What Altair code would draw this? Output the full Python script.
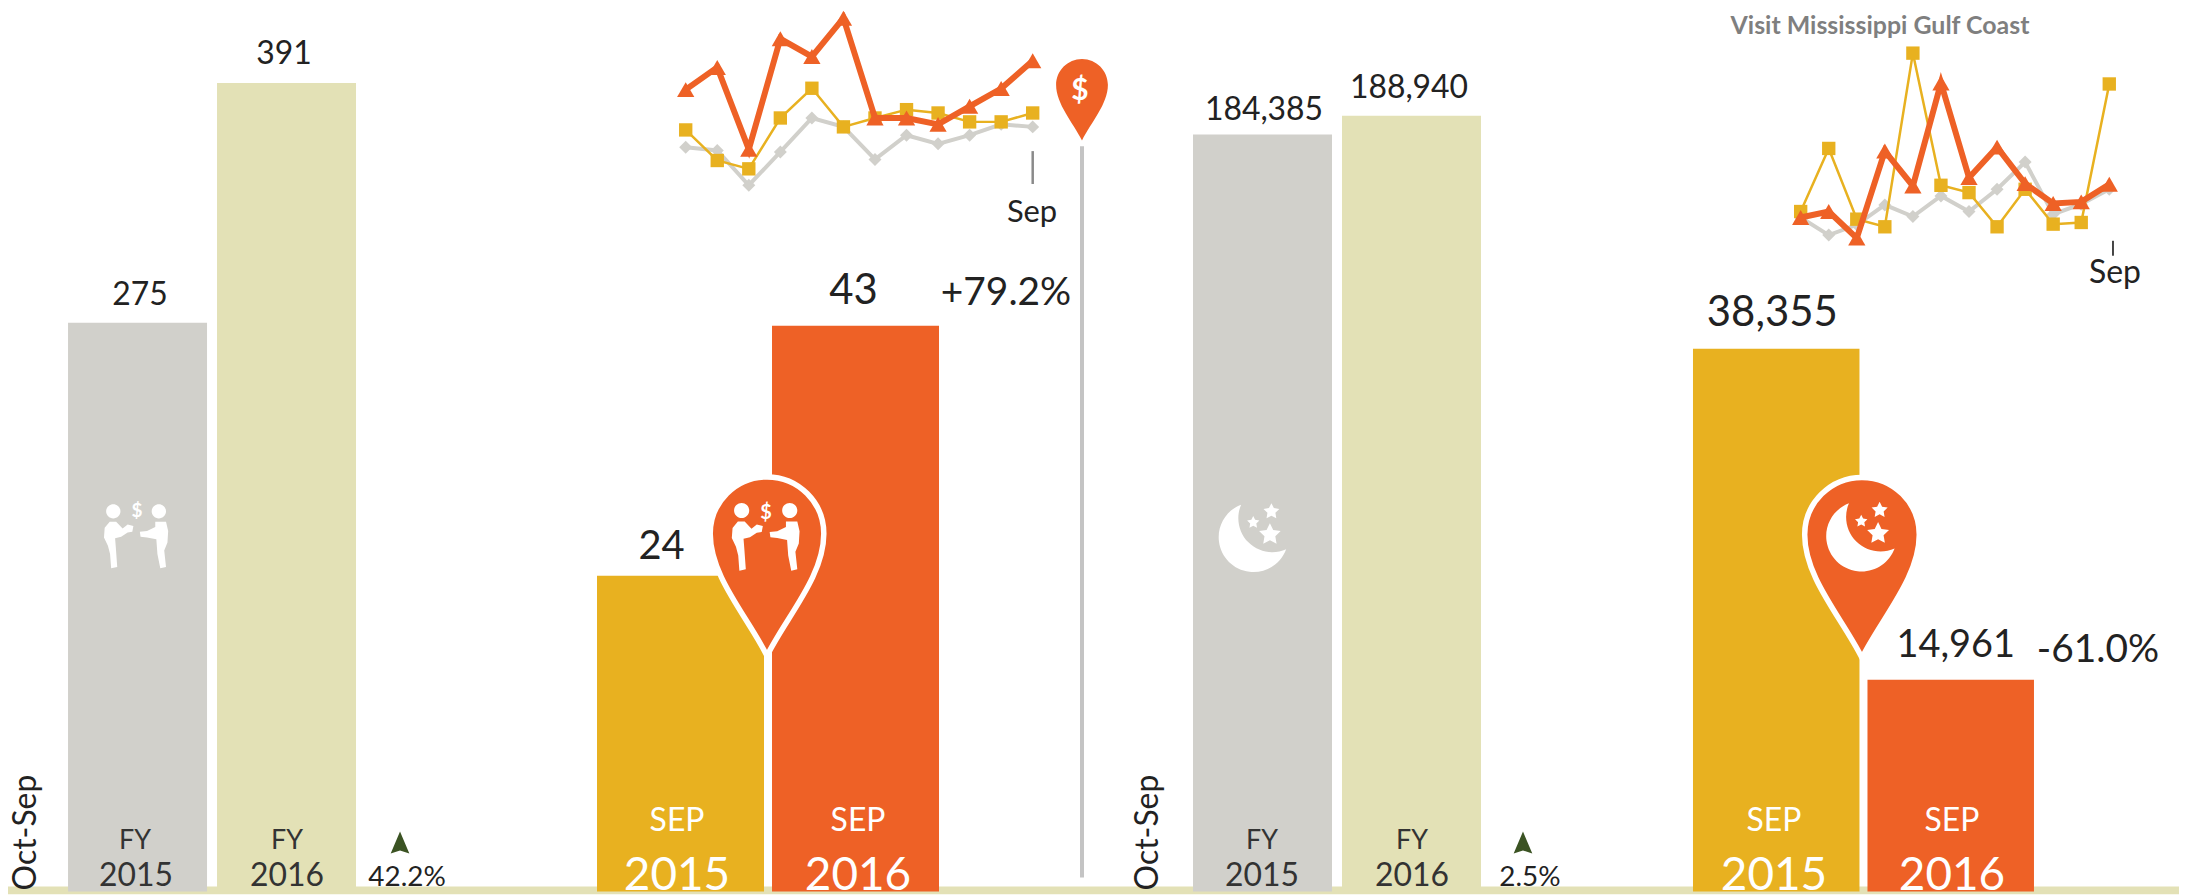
import math
import altair as alt
import pandas as pd

# ---------- data ----------
fy_visits_years = ["FY 2015", "FY 2016"]
fy_visits = [275, 391]
sep_visits_years = ["SEP 2015", "SEP 2016"]
sep_visits = [24, 43]
fy_nights_years = ["FY 2015", "FY 2016"]
fy_nights = [184385, 188940]
sep_nights_years = ["SEP 2015", "SEP 2016"]
sep_nights = [38355, 14961]
months = ["Oct", "Nov", "Dec", "Jan", "Feb", "Mar", "Apr", "May", "Jun", "Jul", "Aug", "Sep"]

# sparkline 1: relative index, estimated
s1_orange = [37.5, 45.5, 16, 55.8, 49.4, 63.2, 27.3, 27.3, 25, 31.5, 37.9, 47.9]
s1_gold = [23, 12, 9, 27.3, 38, 24.1, 27.3, 30.3, 29.1, 25.9, 25.9, 29.1]
s1_grey = [16.8, 15.6, 3.1, 15.1, 27.3, 24.1, 12.4, 21.1, 18, 21.1, 25, 24.1]
# sparkline 2: estimated room nights
s2_orange = [7218, 8612, 2417, 22704, 14574, 38577, 16510, 23633, 15116, 10470, 10857, 14961]
s2_gold = [8612, 23323, 6831, 5050, 45546, 14729, 13025, 5050, 13800, 5669, 6057, 38355]
s2_grey = [7218, 3114, 5515, 10160, 7450, 12251, 8612, 13800, 20149, 7992, 10315, 13800]

# ---------- style ----------
ORANGE, GOLD, GREY, KHAKI = "#EE6126", "#E8B120", "#D1D0CB", "#E3E1B6"
INK, FONT = "#222222", "Lato"
W, H = 2179, 888

def X(p):
    return p * 2195 / 2187 - 8

def Y(p):
    return p - 8

one = pd.DataFrame({"a": [0]})

def text(s, x, y, size, color=INK, align="center", angle=0, weight="normal", baseline="alphabetic"):
    return alt.Chart(one).mark_text(
        text=s, font=FONT, fontSize=size, color=color, align=align, angle=angle,
        fontWeight=weight, baseline=baseline,
    ).encode(x=alt.value(X(x)), y=alt.value(Y(y)))

def glyph(path, x, y, half, fill="white", stroke=None, sw=0):
    kw = dict(shape=path, size=(2 * half) ** 2, filled=True, fill=fill, opacity=1, fillOpacity=1)
    if stroke:
        kw.update(stroke=stroke, strokeWidth=sw)
    else:
        kw.update(strokeWidth=0)
    return alt.Chart(one).mark_point(**kw).encode(x=alt.value(X(x)), y=alt.value(Y(y)))

def bars(cats, vals, colors, xr, gap, domain, top, labels):
    df = pd.DataFrame({"c": cats, "v": vals, "color": colors, "lab": [f"{v:,}" for v in vals]})
    xs = alt.X("c:N", axis=None, sort=None, scale=alt.Scale(
        domain=cats, range=[X(xr[0]), X(xr[1])],
        paddingInner=gap / ((xr[1] - xr[0] + gap) / 2), paddingOuter=0))
    ys = alt.Y("v:Q", axis=None, scale=alt.Scale(domain=[0, domain], range=[Y(893), Y(top)]))
    out = [alt.Chart(df).mark_bar(cornerRadius=0, strokeWidth=0).encode(
        x=xs, y=ys, fill=alt.Fill("color:N", scale=None))]
    for i, (dx, dy, size) in enumerate(labels):
        out.append(alt.Chart(df.iloc[[i]]).mark_text(
            font=FONT, fontSize=size, color=INK, baseline="alphabetic", dx=dx, dy=dy,
        ).encode(x=xs, y=ys, text="lab:N"))
    return out

def spark(orange, gold, grey, xr, domain, yr, owidth):
    df = pd.DataFrame({"m": months, "orange": orange, "gold": gold, "grey": grey})
    xs = alt.X("m:N", axis=None, sort=None, scale=alt.Scale(
        type="point", domain=months, range=[X(xr[0]), X(xr[1])], padding=0))
    ys = lambda f: alt.Y(f + ":Q", axis=None, scale=alt.Scale(domain=domain, range=[Y(yr[0]), Y(yr[1])]))
    out = []
    for f, col, lw, sh, sz in [("grey", GREY, 4, "diamond", 170),
                               ("gold", GOLD, 2.5, "square", 180),
                               ("orange", ORANGE, owidth, "triangle-up", 300)]:
        out.append(alt.Chart(df).mark_line(color=col, strokeWidth=lw).encode(x=xs, y=ys(f)))
        out.append(alt.Chart(df).mark_point(shape=sh, size=sz, filled=True, color=col, opacity=1, strokeWidth=0)
                   .encode(x=xs, y=ys(f)))
    return out

# ---------- icon outlines, unit box -1..1 ----------
def circ(x, y, r):
    return f"M{x - r},{y}a{r},{r} 0 1,0 {2 * r},0a{r},{r} 0 1,0 {-2 * r},0Z"

def poly(pts):
    return "M" + "L".join(f"{a},{b}" for a, b in pts) + "Z"

def star(x, y, r):
    pts = []
    for k in range(10):
        rr = r if k % 2 == 0 else r * 0.5
        t = -math.pi / 2 + k * math.pi / 5
        pts.append((round(x + rr * math.cos(t), 3), round(y + rr * math.sin(t), 3)))
    return poly(pts)

PIN = "M0,2.15C-.35,1.45 -1,.75 -1,0A1,1 0 1,1 1,0C1,.75 .35,1.45 0,2.15Z"
PEOPLE = (circ(-.67, -.64, .2) + circ(.6, -.64, .2)
          + poly([(-.77, -.35), (-.59, -.35), (-.41, -.16), (-.27, -.27), (-.11, -.23), (-.14, -.07), (-.27, -.05),
                  (-.45, .07), (-.62, .11), (-.6, .36), (-.56, .91), (-.73, .95), (-.76, .55), (-.82, .32),
                  (-.93, .09), (-.91, -.18)])
          + poly([(.5, -.35), (.8, -.35), (.86, -.09), (.84, .23), (.75, .45), (.8, .91), (.64, .95), (.56, .55),
                  (.53, .14), (.27, .09), (.09, .07), (.07, -.07), (.27, -.09), (.5, -.2)]))
MOON = ("M-.34,-.82A.92,.92 0 1,0 .85,.36A.9,.9 0 0,1 -.34,-.82Z"
        + star(.42, -.03, .3) + star(.46, -.64, .22) + star(-.02, -.35, .17))
ARROW = "M0,-1L.85,1L0,.72L-.85,1Z"

layers = []
# ground band
layers.append(alt.Chart(one).mark_rect(color=KHAKI, strokeWidth=0).encode(
    x=alt.value(0), x2=alt.value(W), y=alt.value(Y(888)), y2=alt.value(H)))

# bars
layers += bars(fy_visits_years, fy_visits, [GREY, KHAKI], (68, 356), 10, 400, 63,
               [(0, -18, 32), (0, -19, 32)])
layers += bars(sep_visits_years, sep_visits, [GOLD, ORANGE], (597, 939), 8, 50, 233,
               [(-21, -17, 40), (0, -22, 42)])
layers += bars(fy_nights_years, fy_nights, [GREY, KHAKI], (1193, 1481), 10, 200000, 69,
               [(-1, -15, 32), (0, -18, 32)])
layers += bars(sep_nights_years, sep_nights, [GOLD, ORANGE], (1693, 2034), 8, 40000, 325,
               [(-6, -23, 42), (7, -23, 38)])

# sparklines
layers += spark(s1_orange, s1_gold, s1_grey, (685.7, 1032.7), [0, 65], (192.9, 11.6), 6)
layers += spark(s2_orange, s2_gold, s2_grey, (1800.7, 2109.3), [0, 50000], (247.7, 32.5), 6)

# rules and ticks
for x, y0, y1, col, sw in [(1082, 145, 879, "#C4C4C4", 4), (1032.7, 150, 183, "#8A8A8A", 2.5),
                           (2113, 240, 255, "#444444", 2)]:
    layers.append(alt.Chart(one).mark_rule(color=col, strokeWidth=sw).encode(
        x=alt.value(X(x)), y=alt.value(Y(y0)), y2=alt.value(Y(y1))))

# pins and icons
layers.append(glyph(PIN, 767, 534, 57, ORANGE, "white", 5.5))
layers.append(glyph(PEOPLE, 767, 535, 38))
layers.append(text("$", 766, 519, 20, "white", weight="bold"))
layers.append(glyph(PIN, 1862, 535, 57.5, ORANGE, "white", 5.5))
layers.append(glyph(MOON, 1862, 535, 38.5))
layers.append(glyph(PIN, 1082, 83.5, 26, ORANGE))
layers.append(text("$", 1080, 99, 30, "white", weight="bold"))
layers.append(glyph(PEOPLE, 137.3, 534.6, 36))
layers.append(text("$", 137, 517, 19, "white", weight="bold"))
layers.append(glyph(MOON, 1254, 536, 38))

# arrows
layers.append(glyph(ARROW, 400, 844, 11, "#3B5323"))
layers.append(glyph(ARROW, 1523, 844, 11, "#3B5323"))

# texts
for s, x, y, size, col, kw in [
    ("Sep", 1032, 221, 31, INK, {}),
    ("Sep", 2115, 282, 32, INK, {}),
    ("Visit Mississippi Gulf Coast", 1880, 32, 25, "#7F7F7F", {"weight": "bold"}),
    ("+79.2%", 1006, 304, 39, INK, {}),
    ("-61.0%", 2098, 663, 39, INK, {}),
    ("42.2%", 407, 888, 28, INK, {}),
    ("2.5%", 1530, 888, 28, INK, {}),
    ("FY", 135, 850, 27, "#333333", {}),
    ("2015", 136, 888, 32, "#333333", {}),
    ("FY", 287, 850, 27, "#333333", {}),
    ("2016", 287, 888, 32, "#333333", {}),
    ("FY", 1262, 850, 27, "#333333", {}),
    ("2015", 1262, 888, 32, "#333333", {}),
    ("FY", 1412, 850, 27, "#333333", {}),
    ("2016", 1412, 888, 32, "#333333", {}),
    ("SEP", 677, 832, 32, "white", {}),
    ("2015", 677, 892, 46, "white", {}),
    ("SEP", 858, 832, 32, "white", {}),
    ("2016", 858, 892, 46, "white", {}),
    ("SEP", 1774, 832, 32, "white", {}),
    ("2015", 1774, 892, 46, "white", {}),
    ("SEP", 1952, 832, 32, "white", {}),
    ("2016", 1952, 892, 46, "white", {}),
]:
    layers.append(text(s, x, y, size, col, **kw))
for x in (36, 1158):
    layers.append(text("Oct-Sep", x, 892, 32, INK, align="left", angle=270))

chart = alt.layer(*layers).resolve_scale(x="independent", y="independent").properties(
    width=W, height=H, padding=0, background="white",
    autosize=alt.AutoSizeParams(type="none"),
).configure_view(strokeWidth=0)

chart.save("out.html", embed_options={"renderer": "svg", "actions": False})
